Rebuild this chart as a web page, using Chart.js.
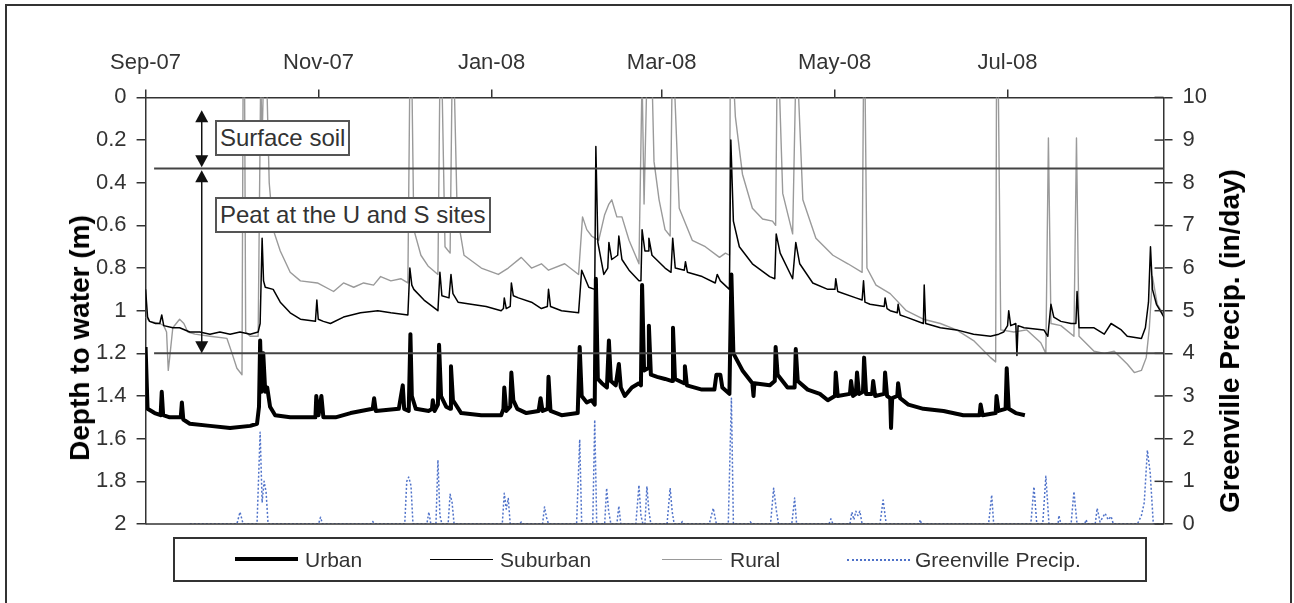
<!DOCTYPE html>
<html>
<head>
<meta charset="utf-8">
<script src="https://cdn.jsdelivr.net/npm/chart.js@4.4.1/dist/chart.umd.min.js"></script>
<style>
  html, body { margin: 0; padding: 0; background: #fff; }
  #wrap { position: relative; width: 1294px; height: 603px; overflow: hidden;
          font-family: "Liberation Sans", Arial, sans-serif; color: #333; }
  #c { display: block; }
  .frame { position: absolute; left: 5px; top: 4px; width: 1283px; height: 620px;
           border: 2px solid #333; }
  .note { position: absolute; border: 2px solid #555; background: #fff;
          font-size: 24px; line-height: 32px; padding: 0 3px; white-space: nowrap; }
  .title { position: absolute; font-weight: bold; font-size: 28px; color: #000;
           white-space: nowrap; transform: translate(-50%, -50%) rotate(-90deg); }
  .legend { position: absolute; left: 173px; top: 537px; width: 970px; height: 41px;
            border: 2px solid #333; font-size: 21px; }
  .legend .item { position: absolute; top: 0; height: 41px; line-height: 41px; }
  .legend .sample { position: absolute; top: 20px; }
</style>
</head>
<body>
<div id="wrap">
  <canvas id="c" width="1294" height="603"></canvas>
  <div class="frame"></div>
  <div class="note" style="left:215px; top:120px;">Surface soil</div>
  <div class="note" style="left:215px; top:197px;">Peat at the U and S sites</div>
  <div class="title" style="left:80px; top:338px;">Depth to water (m)</div>
  <div class="title" style="left:1230px; top:341px;">Greenville Precip. (in/day)</div>
  <div class="legend">
    <div class="sample" style="left:60px; width:63px; border-top:4px solid #000; margin-top:-2px;"></div>
    <div class="item" style="left:130px;">Urban</div>
    <div class="sample" style="left:255px; width:63px; border-top:1.5px solid #000;"></div>
    <div class="item" style="left:325px;">Suburban</div>
    <div class="sample" style="left:487px; width:60px; border-top:1.5px solid #999;"></div>
    <div class="item" style="left:555px;">Rural</div>
    <div class="sample" style="left:672px; width:63px; border-top:2px dotted #4f72c9;"></div>
    <div class="item" style="left:740px;">Greenville Precip.</div>
  </div>
</div>
<script>
// ===== DATA (x = days since 1 Sep 2007) =====
const monthDays = [0, 61, 122, 182, 243, 304];
const monthLabels = ['Sep-07', 'Nov-07', 'Jan-08', 'Mar-08', 'May-08', 'Jul-08'];
const depthTicks = [0, 0.2, 0.4, 0.6, 0.8, 1, 1.2, 1.4, 1.6, 1.8, 2];
const precipTicks = [0, 1, 2, 3, 4, 5, 6, 7, 8, 9, 10];
const boundaryDepths = [0.333, 1.2];   // surface soil / peat limits
const arrowDay = 19.8;
const arrowSpans = [[0.06, 0.328], [0.342, 1.2]];

// Urban depth to water (m)
const urban = [
  [0,1.17],[0.7,1.46],[3.2,1.48],[5.3,1.49],[5.7,1.38],[6.2,1.49],[8.5,1.50],[12.4,1.50],[12.8,1.43],[13.3,1.51],
  [15.6,1.53],[22.7,1.54],[29.8,1.55],[36.9,1.54],[39.3,1.53],[40.0,1.45],[40.4,1.14],[40.9,1.38],[41.5,1.20],[42.2,1.38],
  [42.9,1.36],[43.9,1.45],[45.7,1.49],[51,1.50],[59.9,1.50],[60.2,1.40],[61,1.49],[62,1.40],[62.7,1.50],[67,1.50],
  [72.3,1.48],[80.1,1.46],[80.6,1.41],[81.2,1.47],[89.3,1.46],[90.7,1.35],[91.2,1.46],[92.8,1.47],[93.4,1.11],[93.9,1.40],
  [95.3,1.46],[99.9,1.47],[101,1.46],[101.3,1.42],[101.9,1.47],[103.1,1.44],[103.5,1.16],[104.2,1.40],[106,1.45],[107.4,1.46],
  [107.7,1.26],[108.4,1.42],[111.3,1.48],[118.4,1.49],[125.4,1.49],[126.2,1.46],[126.5,1.36],[127.2,1.47],[128.6,1.45],[129,1.29],
  [129.7,1.42],[131.1,1.46],[134.3,1.48],[138.6,1.47],[139.3,1.41],[140,1.47],[141.8,1.46],[142.1,1.31],[142.8,1.47],[146.7,1.49],
  [152.4,1.48],[153.1,1.17],[153.8,1.40],[155.6,1.43],[157.3,1.42],[158.4,1.44],[158.8,0.85],[159.5,1.32],[160.9,1.34],[162.7,1.36],
  [163.4,1.14],[164.1,1.33],[165.8,1.35],[166.9,1.25],[167.6,1.36],[169,1.40],[171.5,1.36],[174,1.34],[174.7,1.35],[175.1,0.88],
  [175.8,1.28],[177.2,1.27],[177.5,1.07],[178.2,1.30],[180.4,1.31],[183.2,1.32],[185.7,1.33],[186,1.08],[186.7,1.32],[189.9,1.34],
  [190.2,1.26],[190.9,1.35],[196.2,1.37],[200.6,1.37],[201.3,1.30],[202.7,1.30],[203.4,1.36],[205.9,1.39],[206.6,0.83],[207.3,1.20],
  [210.5,1.28],[214,1.34],[214.4,1.40],[214.7,1.34],[220.1,1.35],[221.9,1.33],[222.2,1.17],[222.9,1.30],[226.4,1.36],[228.9,1.36],
  [229.3,1.18],[230,1.33],[233.5,1.37],[237.8,1.39],[240.6,1.42],[243.1,1.40],[243.4,1.29],[244.1,1.40],[248.4,1.39],[248.8,1.33],
  [249.5,1.40],[250.5,1.39],[250.9,1.29],[251.6,1.39],[253,1.38],[253.4,1.22],[254.1,1.39],[256.2,1.39],[256.6,1.33],[257.3,1.40],
  [260.5,1.39],[260.8,1.29],[261.5,1.40],[262.6,1.41],[262.9,1.55],[263.3,1.41],[265.1,1.40],[265.4,1.34],[266.1,1.41],[269,1.44],
  [274.3,1.46],[281.4,1.47],[288.4,1.49],[294.1,1.49],[294.5,1.44],[295.2,1.49],[299.8,1.48],[300.1,1.40],[300.8,1.47],[303.3,1.46],
  [303.7,1.27],[304.4,1.46],[306.9,1.48],[310.1,1.49]
];

// Suburban depth to water (m)
const suburban = [
  [0,0.90],[0.7,1.03],[1.4,1.05],[3.5,1.06],[5.0,1.06],[5.7,1.02],[6.4,1.07],[9.6,1.08],[12,1.08],[15.6,1.10],
  [19.1,1.10],[22.7,1.11],[26.2,1.10],[29.8,1.11],[33.3,1.10],[36.9,1.11],[39.7,1.10],[40.4,1.06],[41.1,0.66],[41.6,0.86],
  [42.2,0.89],[45,0.90],[47.5,0.96],[51,1.01],[54.6,1.04],[59.9,1.05],[60.4,0.95],[60.9,1.04],[62.7,1.05],[65.2,1.06],
  [69.8,1.03],[75.8,1.01],[81.9,1.00],[86.5,1.01],[92.5,1.02],[93.2,0.80],[93.9,0.88],[94.6,0.90],[98.2,0.95],[103.1,1.00],
  [103.8,0.82],[104.5,0.93],[107,0.94],[107.7,0.83],[108.4,0.92],[110.2,0.96],[114.8,0.97],[120.1,0.98],[125.4,1.00],[126.2,0.99],
  [126.5,0.94],[127.2,0.99],[128.6,0.98],[129,0.87],[129.7,0.93],[131.5,0.94],[136.1,0.96],[139.6,0.99],[141.7,0.98],[142.1,0.90],
  [142.8,0.98],[146.7,1.00],[152.7,1.01],[153.8,0.81],[156.3,0.89],[158.4,0.90],[158.8,0.23],[159.5,0.68],[161.6,0.83],[163,0.80],
  [163.4,0.68],[164.4,0.76],[166.5,0.74],[166.9,0.65],[168,0.76],[170.5,0.81],[174,0.86],[174.7,0.86],[175.1,0.62],[176.1,0.72],
  [177.2,0.72],[177.5,0.66],[178.6,0.74],[183.2,0.80],[185.3,0.82],[185.9,0.66],[186.8,0.80],[190,0.81],[190.4,0.77],[191.1,0.82],
  [196.3,0.84],[200.9,0.87],[201.6,0.83],[202.7,0.86],[205.9,0.90],[206.4,0.20],[207.3,0.58],[209.4,0.70],[214,0.78],[220.1,0.84],
  [221.9,0.85],[222.4,0.64],[223.8,0.73],[228.2,0.85],[229.3,0.68],[230.7,0.78],[235.3,0.87],[240.6,0.90],[243.1,0.90],[243.4,0.85],
  [244.1,0.91],[250.5,0.94],[252.7,0.95],[253.2,0.86],[253.7,0.96],[255.5,0.97],[260.5,0.98],[260.8,0.94],[261.5,0.99],[262.6,1.00],
  [265.1,1.01],[265.4,0.97],[266.1,1.02],[268.3,1.03],[274.3,1.06],[274.6,0.88],[275.1,1.06],[280.3,1.08],[286,1.09],[292,1.11],
  [298,1.12],[300.9,1.11],[302.6,1.10],[304,1.07],[304.4,1.00],[305.1,1.07],[306.9,1.06],[307.3,1.21],[307.7,1.07],[309.8,1.08],
  [316.8,1.09],[318.2,1.12],[319.3,0.97],[320.3,1.03],[322.8,1.05],[326.4,1.06],[328.1,1.06],[328.5,0.91],[329.2,1.08],[334.5,1.08],
  [338.1,1.11],[340.5,1.06],[344.1,1.09],[346.2,1.12],[351.2,1.13],[352.6,1.08],[353.7,0.96],[354.4,0.70],[355.1,0.90],[356.5,0.97],
  [358.3,1.01],[360,1.05]
];

// Rural depth to water (m); values below 0 run off the top of the axis
const rural = [
  [0,1.03],[1.4,1.05],[5,1.06],[6.4,1.07],[7.4,1.10],[8,1.28],[8.5,1.22],[9.6,1.08],[12,1.04],[13.5,1.06],
  [14.9,1.10],[17.4,1.11],[22.7,1.12],[28.7,1.13],[30.5,1.20],[32.2,1.27],[34,1.30],[34.4,-0.1],[34.9,-0.1],[35.3,1.10],
  [36.9,1.12],[39.7,1.12],[40.6,-0.1],[41.1,0.2],[41.6,-0.1],[42.7,-0.1],[43.6,0.40],[45,0.62],[47.5,0.72],[51,0.82],
  [54.6,0.86],[60.6,0.87],[66.3,0.91],[69.8,0.87],[73.4,0.89],[76.9,0.87],[80.4,0.88],[82.9,0.84],[86.5,0.86],[90,0.85],
  [92.5,0.87],[93.2,-0.1],[93.9,-0.1],[94.6,0.62],[97.1,0.74],[99.6,0.79],[103.1,0.83],[103.8,-0.1],[104.5,-0.1],[105.6,0.70],
  [107.4,0.73],[108.1,-0.1],[108.8,-0.1],[109.9,0.55],[112.3,0.74],[118.4,0.80],[124.4,0.83],[127.9,0.80],[132.5,0.75],[136.1,0.80],
  [139.6,0.78],[142.1,0.81],[147.8,0.78],[152.7,0.83],[154.1,0.56],[155.6,0.62],[157.3,0.65],[159.8,0.67],[161.9,0.55],[163.4,0.50],
  [164.4,0.48],[166.2,0.56],[168,0.56],[170.5,0.67],[174,0.78],[175.1,-0.1],[175.8,0.5],[176.8,-0.1],[178.6,-0.1],[179.3,0.3],
  [181.1,0.48],[183.2,0.62],[185,0.65],[185.7,-0.1],[186.4,-0.1],[188.2,0.52],[192.8,0.67],[197.4,0.70],[202.4,0.75],[204.5,0.73],
  [205.9,0.74],[206.2,-0.1],[207.3,-0.1],[208,0.09],[210.5,0.36],[214,0.52],[217.6,0.57],[221.1,0.58],[222.2,0.60],[222.7,-0.1],
  [223.4,-0.1],[224.7,0.45],[228.2,0.64],[229.3,-0.1],[230,-0.1],[231.8,0.48],[236.4,0.66],[242.4,0.74],[247.7,0.78],[252.7,0.82],
  [253.2,-0.1],[253.7,-0.1],[254.4,0.80],[257.6,0.88],[262.6,0.92],[268.3,1.00],[274.3,1.04],[280.3,1.06],[286,1.09],[292,1.14],
  [298,1.22],[299.8,1.24],[300.1,-0.1],[300.7,-0.1],[301.6,1.09],[306.2,1.10],[310.8,1.09],[315.7,1.15],[317.5,1.20],[318.4,0.19],
  [319.3,1.06],[322.8,1.07],[327.4,1.12],[328.3,0.19],[329.2,1.12],[334.5,1.19],[338.1,1.20],[341.6,1.19],[346.2,1.25],[348.7,1.29],
  [351.2,1.28],[352.9,1.22],[354,1.08],[355.1,0.84],[356.8,0.97],[360,1.04]
];

// Greenville precipitation (in/day)
const precip = [
  [15.6,0],[32.2,0],[33.3,0.28],[34.4,0],[39.3,0],[40.4,2.15],[41.1,0.5],[41.8,1.0],[42.5,0.75],[43.2,0],
  [61,0],[61.7,0.16],[62.4,0],[79.5,0],[80.1,0.06],[80.7,0],[91.4,0],[92.1,1.0],[92.8,1.1],[93.6,0.9],[94.3,0],
  [99.2,0],[99.9,0.28],[100.6,0],[102.4,0],[103.1,1.50],[103.8,0.2],[104.5,0],[106.7,0],[107.4,0.7],[108.1,0.5],[108.8,0],
  [125.8,0],[126.5,0.72],[127.2,0.35],[127.9,0.6],[128.6,0],[132,0],[132.5,0.05],[133,0],[140,0],[140.7,0.40],[141.4,0.15],[142.1,0],
  [152,0],[153.1,1.98],[153.8,0],[157.7,0],[158.4,2.44],[159.1,0],[161.9,0],[162.6,0.84],[163.3,0.3],[164.1,0],
  [166.2,0],[166.9,0.42],[167.6,0],[172.9,0],[174,0.91],[174.7,0.2],[175.4,0],[176.1,0],[176.8,0.88],[177.5,0.3],[178.2,0],
  [183.9,0],[185,0.84],[185.7,0.3],[186.4,0],[188.8,0],[189.3,0.06],[189.8,0],[198.8,0],[200.2,0.37],[201.3,0],
  [205.5,0],[206.6,2.95],[207.3,0],[212.8,0],[213.3,0.05],[213.8,0],[220.4,0],[221.5,0.84],[222.5,0.3],[223.2,0],
  [227.9,0],[228.9,0.61],[229.6,0],[241,0],[241.7,0.12],[242.4,0],[248.4,0],[249.1,0.28],[249.8,0.1],[250.5,0.3],
  [251.2,0.2],[251.9,0.3],[252.7,0],[259,0],[260.1,0.56],[261.2,0],[272.9,0],[273.2,0.1],[273.6,0],
  [297.3,0],[298.4,0.68],[299.1,0],[312.2,0],[313.3,0.87],[314.3,0],[316.4,0],[317.5,1.12],[318.6,0],
  [321.8,0],[322.1,0.2],[322.8,0],[326.4,0],[327.4,0.76],[328.5,0],[331.2,0],[331.7,0.1],[332.2,0],
  [334.9,0],[335.6,0.37],[336.6,0.05],[338.4,0.25],[339.5,0.1],[340.5,0.18],[341.3,0],[349.8,0],[351.2,0.2],
  [352.2,0.5],[353.3,1.73],[354.3,1.2],[355.4,0],[360,0]
];

const toXY = pts => pts.map(p => ({ x: p[0], y: p[1] }));
const tickFont = { family: 'Liberation Sans, Arial, sans-serif', size: 22 };

// Layer lines, arrows, inner ticks of the precip axis, bottom frame line
const decor = {
  id: 'decor',
  afterDatasetsDraw(chart) {
    const { ctx, chartArea: a, scales: { x, y, y2 } } = chart;
    ctx.save();
    ctx.strokeStyle = '#333';
    ctx.lineWidth = 1.5;
    ctx.beginPath();
    ctx.moveTo(a.left, a.bottom);
    ctx.lineTo(a.right, a.bottom);
    ctx.stroke();

    y2.ticks.forEach(t => {
      const py = y2.getPixelForValue(t.value);
      ctx.beginPath();
      ctx.moveTo(a.right - 9, py);
      ctx.lineTo(a.right, py);
      ctx.stroke();
    });

    ctx.strokeStyle = '#444';
    ctx.lineWidth = 2;
    boundaryDepths.forEach(d => {
      const py = y.getPixelForValue(d);
      ctx.beginPath();
      ctx.moveTo(x.getPixelForValue(3), py);
      ctx.lineTo(a.right, py);
      ctx.stroke();
    });

    const ax = x.getPixelForValue(arrowDay);
    ctx.strokeStyle = '#111';
    ctx.fillStyle = '#111';
    ctx.lineWidth = 1.5;
    const head = (py, dir) => {
      ctx.beginPath();
      ctx.moveTo(ax, py);
      ctx.lineTo(ax - 6.5, py + dir * 12);
      ctx.lineTo(ax + 6.5, py + dir * 12);
      ctx.closePath();
      ctx.fill();
    };
    arrowSpans.forEach(([d1, d2]) => {
      const p1 = y.getPixelForValue(d1), p2 = y.getPixelForValue(d2);
      ctx.beginPath();
      ctx.moveTo(ax, p1 + 6);
      ctx.lineTo(ax, p2 - 6);
      ctx.stroke();
      head(p1, 1);
      head(p2, -1);
    });
    ctx.restore();
  }
};

new Chart(document.getElementById('c'), {
  type: 'line',
  data: {
    datasets: [
      { label: 'Urban', data: toXY(urban), borderColor: '#000', borderWidth: 4, yAxisID: 'y' },
      { label: 'Suburban', data: toXY(suburban), borderColor: '#000', borderWidth: 1.5, yAxisID: 'y' },
      { label: 'Rural', data: toXY(rural), borderColor: '#9a9a9a', borderWidth: 1.4, yAxisID: 'y' },
      { label: 'Greenville Precip.', data: toXY(precip), borderColor: '#4f72c9', borderWidth: 1.5,
        borderDash: [2, 2], yAxisID: 'y2' }
    ]
  },
  options: {
    responsive: false,
    animation: false,
    events: [],
    elements: { point: { radius: 0 }, line: { tension: 0, borderJoinStyle: 'round' } },
    layout: { padding: { left: 86, right: 77, top: 37, bottom: 79 } },
    plugins: { legend: { display: false }, tooltip: { enabled: false } },
    scales: {
      x: {
        type: 'linear', position: 'top', min: 0, max: 359,
        afterBuildTicks: s => { s.ticks = monthDays.map(v => ({ value: v })); },
        ticks: {
          font: tickFont, color: '#333', padding: 13, maxRotation: 0, autoSkip: false,
          callback: (v) => monthLabels[monthDays.indexOf(v)]
        },
        grid: { drawOnChartArea: false, tickLength: 8, color: '#333', lineWidth: 1.5 },
        border: { color: '#333', width: 1.5 }
      },
      y: {
        position: 'left', reverse: true, min: 0, max: 2,
        afterBuildTicks: s => { s.ticks = depthTicks.map(v => ({ value: v })); },
        ticks: { font: tickFont, color: '#333', padding: 10, callback: v => String(v) },
        grid: { drawOnChartArea: false, tickLength: 9, color: '#333', lineWidth: 1.5 },
        border: { color: '#333', width: 1.5 }
      },
      y2: {
        position: 'right', min: 0, max: 10,
        afterBuildTicks: s => { s.ticks = precipTicks.map(v => ({ value: v })); },
        ticks: { font: tickFont, color: '#333', padding: 10, callback: v => String(v) },
        grid: { drawOnChartArea: false, tickLength: 9, color: '#333', lineWidth: 1.5 },
        border: { color: '#333', width: 1.5 }
      }
    }
  },
  plugins: [decor]
});
</script>
</body>
</html>
